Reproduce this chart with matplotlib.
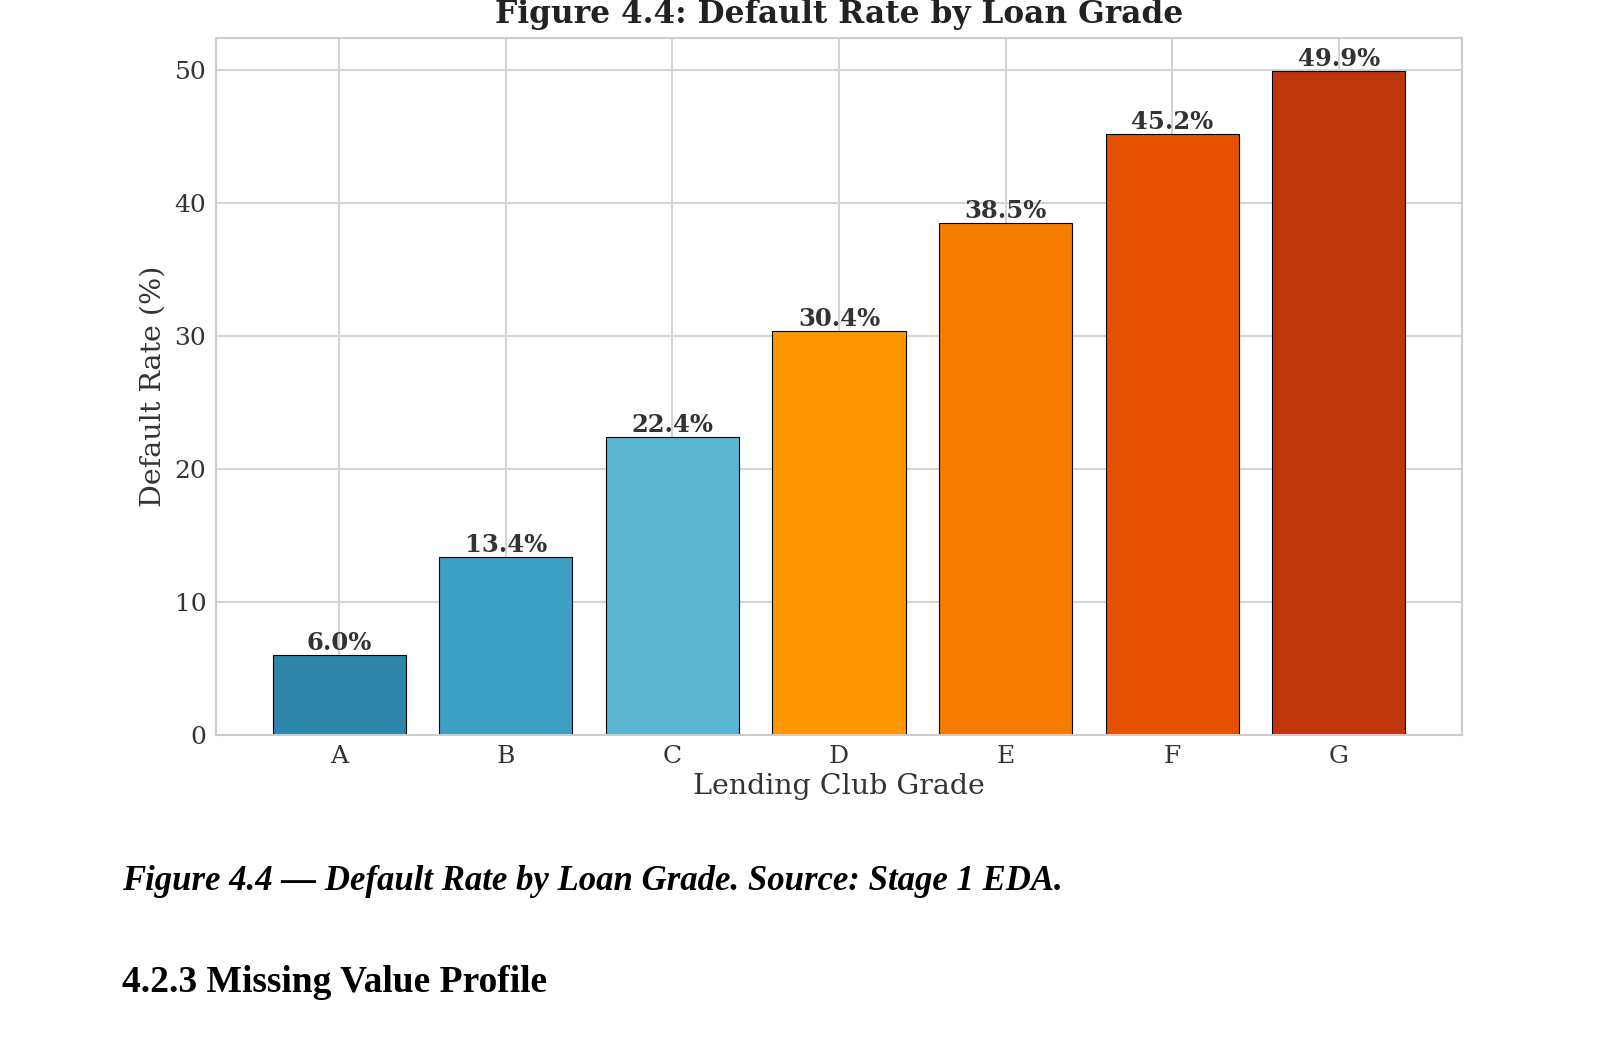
import matplotlib
matplotlib.use('Agg')
import matplotlib.pyplot as plt
import seaborn as sns

# data
grades = ['A', 'B', 'C', 'D', 'E', 'F', 'G']
default_rate = [6.0, 13.4, 22.4, 30.4, 38.5, 45.2, 49.9]
bar_colors = ['#2E86AB', '#3BA0C4', '#5BB5D3', '#FF9500', '#F57C00', '#E65100', '#BF360C']

sns.set_style('whitegrid')
plt.rcParams['font.family'] = ['DejaVu Serif']

fig = plt.figure(figsize=(16, 10.6), dpi=100)
ax = fig.add_axes([216/1600, 1 - 735/1060, (1462-216)/1600, (735-38)/1060])

bars = ax.bar(grades, default_rate, color=bar_colors, edgecolor='black', linewidth=0.8, width=0.8)
for b, v in zip(bars, default_rate):
    ax.text(b.get_x() + b.get_width()/2, v, f'{v:.1f}%', ha='center', va='bottom',
            fontsize=17.5, fontweight='bold', color='#333333')

ax.set_title('Figure 4.4: Default Rate by Loan Grade', fontsize=22.5, fontweight='bold',
             color='#222222', pad=11)
ax.set_xlabel('Lending Club Grade', fontsize=20.5, color='#333333', labelpad=4)
ax.set_ylabel('Default Rate (%)', fontsize=20.5, color='#333333', labelpad=6)
ax.tick_params(axis='both', labelsize=18, colors='#333333', length=0, pad=7)
for s in ax.spines.values():
    s.set_color('#cccccc')
    s.set_linewidth(1.5)
ax.grid(color='#d4d4d4', linewidth=1.5)

# document text under the chart
fig.text(122/1600, 1 - 881/1060, 'Figure 4.4 — Default Rate by Loan Grade. Source: Stage 1 EDA.',
         family='Liberation Serif', style='italic', fontweight='bold', fontsize=25,
         va='center', ha='left', color='black')
fig.text(122/1600, 1 - 982/1060, '4.2.3 Missing Value Profile',
         family='Liberation Serif', fontweight='bold', fontsize=27,
         va='center', ha='left', color='black')

fig.savefig('out.png', dpi=100)
